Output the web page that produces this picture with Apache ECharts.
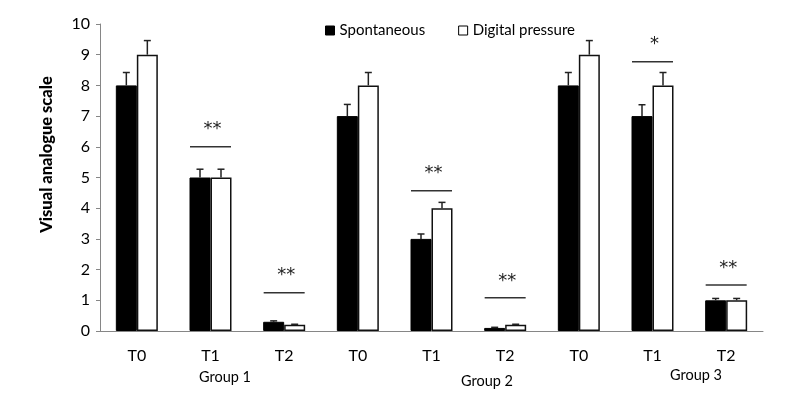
<!DOCTYPE html>
<html>
<head>
<meta charset="utf-8">
<script src="https://cdn.jsdelivr.net/npm/echarts@6/dist/echarts.min.js"></script>
<style>html,body{margin:0;padding:0;background:#fff}#c{width:797px;height:395px}</style>
</head>
<body>
<div id="c"></div>
<script>
const categories = ['T0','T1','T2','T0','T1','T2','T0','T1','T2'];
const spontaneous = [8, 5, 0.3, 7, 3, 0.1, 8, 7, 1];
const digital = [9, 5, 0.2, 8, 4, 0.2, 9, 8, 1];
const spontaneousErrTop = [8.42, 5.27, 0.33, 7.38, 3.16, 0.12, 8.42, 7.37, 1.06];
const digitalErrTop = [9.46, 5.27, 0.22, 8.42, 4.19, 0.22, 9.46, 8.42, 1.06];
const sigCategory = [1, 2, 4, 5, 7, 8];
const sigLineY = [6.0, 1.25, 4.57, 1.08, 8.77, 1.5];
const sigText = ['**', '**', '**', '**', '*', '**'];
const groupLabels = ['Group 1', 'Group 2', 'Group 3'];

const FONT = 'Lato';
const chart = echarts.init(document.getElementById('c'));

const errData = [];
spontaneous.forEach((v, i) => errData.push([i, v, spontaneousErrTop[i], -1]));
digital.forEach((v, i) => errData.push([i, v, digitalErrTop[i], 1]));

const sigData = sigCategory.map((c, i) => [c, sigLineY[i], sigText[i]]);

chart.setOption({
  animation: false,
  textStyle: { fontFamily: FONT },
  grid: { left: 100, right: 34, top: 24, bottom: 64 },
  legend: {
    left: 320, top: 18,
    itemWidth: 9, itemHeight: 9, itemGap: 33,
    textStyle: { fontFamily: FONT, fontSize: 15, color: '#000' },
    data: [
      { name: 'Spontaneous', icon: 'rect', itemStyle: { color: '#000', borderColor: '#000', borderWidth: 1 } },
      { name: 'Digital pressure', icon: 'rect', itemStyle: { color: '#fff', borderColor: '#000', borderWidth: 1 } }
    ]
  },
  xAxis: {
    type: 'category',
    data: categories,
    axisLine: { lineStyle: { color: '#868686', width: 1 } },
    axisTick: { show: false },
    axisLabel: { fontFamily: FONT, fontSize: 16, color: '#000', margin: 17 }
  },
  yAxis: {
    type: 'value', min: 0, max: 10, interval: 1,
    name: 'Visual analogue scale',
    nameLocation: 'middle', nameGap: 45,
    nameTextStyle: { fontFamily: FONT, fontSize: 16.5, fontWeight: 900, color: '#000', padding: [0, 0, 0, 46] },
    axisLine: { show: true, lineStyle: { color: '#868686', width: 1 } },
    axisTick: { show: true, length: 4, lineStyle: { color: '#868686' } },
    splitLine: { show: false },
    axisLabel: { fontFamily: FONT, fontSize: 16, color: '#000', margin: 10 }
  },
  series: [
    {
      name: 'Spontaneous', type: 'bar', data: spontaneous, barWidth: 21, barGap: '0%',
      itemStyle: { color: '#000', borderColor: '#000', borderWidth: 1 }
    },
    {
      name: 'Digital pressure', type: 'bar', data: digital, barWidth: 21, barGap: '0%',
      itemStyle: { color: '#fff', borderColor: '#111', borderWidth: 1.5 }
    },
    {
      type: 'custom', name: 'err', data: errData, z: 5,
      renderItem: function (params, api) {
        const c = api.value(0);
        const base = api.coord([c, api.value(1)]);
        const top = api.coord([c, api.value(2)]);
        const x = base[0] + api.value(3) * 10.5;
        return {
          type: 'group',
          children: [
            { type: 'line', shape: { x1: x, y1: base[1], x2: x, y2: top[1] }, style: { stroke: '#222', lineWidth: 1.5 } },
            { type: 'line', shape: { x1: x - 3.5, y1: top[1], x2: x + 3.5, y2: top[1] }, style: { stroke: '#222', lineWidth: 1.5 } }
          ]
        };
      },
      tooltip: { show: false }
    },
    {
      type: 'custom', name: 'sig', data: sigData, z: 6,
      renderItem: function (params, api) {
        const p = api.coord([api.value(0), api.value(1)]);
        return {
          type: 'group',
          children: [
            { type: 'line', shape: { x1: p[0] - 20.5, y1: p[1], x2: p[0] + 20.5, y2: p[1] }, style: { stroke: '#333', lineWidth: 1.5 } },
            { type: 'text', style: { text: api.value(2), x: p[0] + 2, y: p[1] - 8, align: 'center', verticalAlign: 'bottom', fontFamily: 'DejaVu Sans', fontSize: 18, fill: '#222', lineHeight: 18 } }
          ]
        };
      }
    }
  ],
  graphic: [
    { type: 'text', left: 199, top: 370, style: { text: groupLabels[0], fontFamily: FONT, fontSize: 14.5, fill: '#000' } },
    { type: 'text', left: 461, top: 374, style: { text: groupLabels[1], fontFamily: FONT, fontSize: 14.5, fill: '#000' } },
    { type: 'text', left: 670, top: 368, style: { text: groupLabels[2], fontFamily: FONT, fontSize: 14.5, fill: '#000' } }
  ]
});
</script>
</body>
</html>
